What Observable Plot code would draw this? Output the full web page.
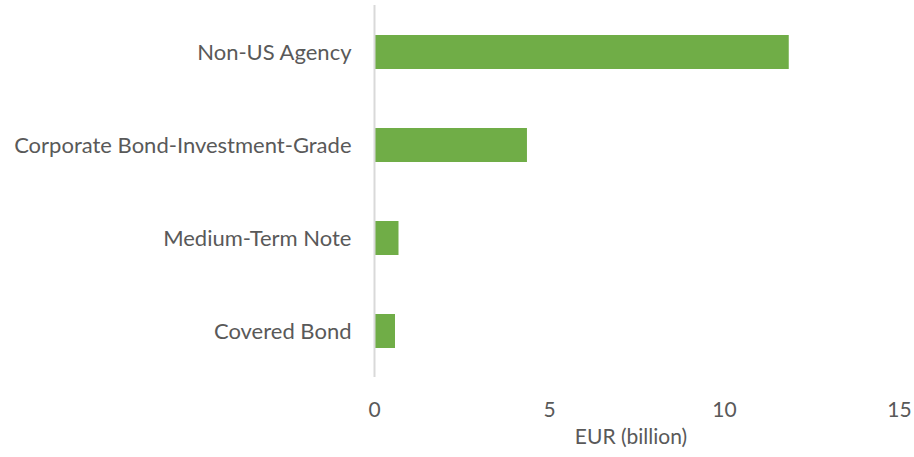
<!DOCTYPE html>
<html>
<head>
<meta charset="utf-8">
<script src="https://cdn.jsdelivr.net/npm/d3@7"></script>
<script src="https://cdn.jsdelivr.net/npm/@observablehq/plot@0.6"></script>
<style>
  html, body { margin: 0; padding: 0; background: #fff; }
</style>
</head>
<body>
<div id="chart"></div>
<script>
const categories = ["Non-US Agency", "Corporate Bond-Investment-Grade", "Medium-Term Note", "Covered Bond"];
const values = [11.85, 4.37, 0.7, 0.6];
const xTicks = [0, 5, 10, 15];
const xLabel = "EUR (billion)";

const data = categories.map((c, i) => ({category: c, value: values[i]}));

const chart = Plot.plot({
  width: 914,
  height: 457,
  marginLeft: 374,
  marginRight: 15,
  marginTop: 5,
  marginBottom: 80,
  style: {fontFamily: "Lato, 'Open Sans', sans-serif", fontSize: "22px", color: "#595959", background: "#fff"},
  x: {domain: [0, 15]},
  y: {domain: categories, paddingInner: 0.635, paddingOuter: 0.3175},
  marks: [
    Plot.barX(data, {x: "value", y: "category", fill: "#70AD47"}),
    Plot.ruleX([0], {stroke: "#d9d9d9", strokeWidth: 2}),
    Plot.axisY({tickSize: 0, tickPadding: 23, label: null, fontSize: 22}),
    Plot.axisX({ticks: xTicks, tickSize: 0, tickPadding: 25, tickFormat: d3.format("d"), label: null, fontSize: 21}),
    Plot.text([xLabel], {frameAnchor: "bottom", dy: 66, dx: -6, fontSize: 21, fill: "#595959"})
  ]
});
document.getElementById("chart").appendChild(chart);
</script>
</body>
</html>
